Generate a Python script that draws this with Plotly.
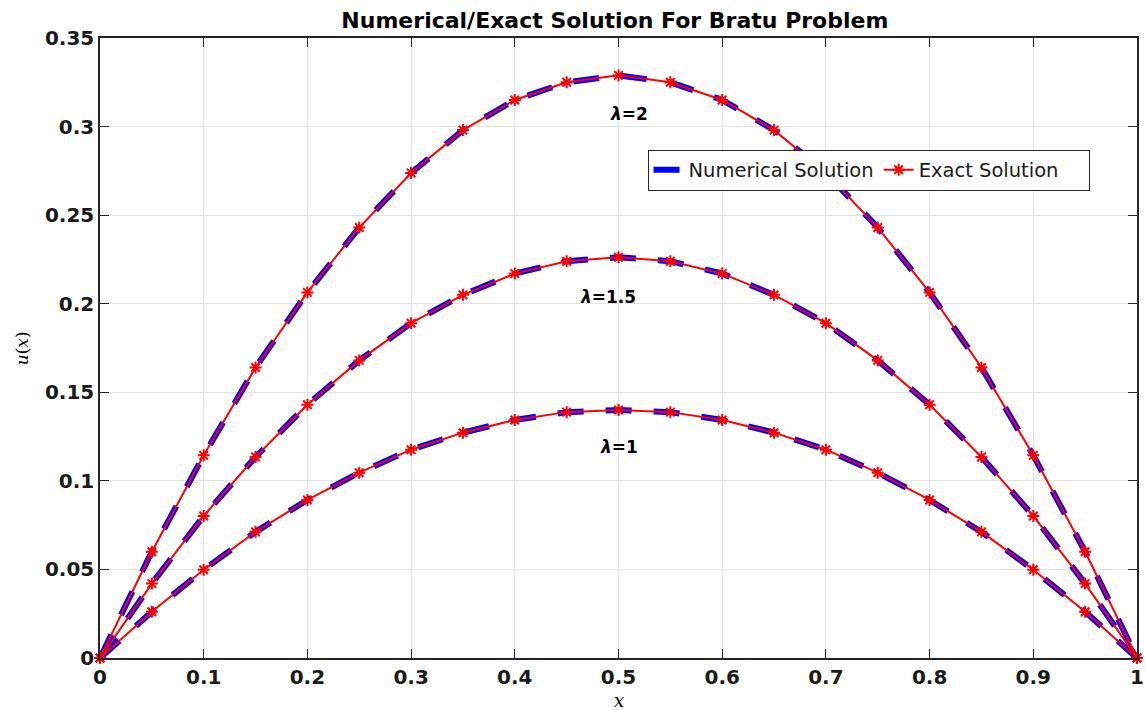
import plotly.graph_objects as go

x_vals = [0, 0.05, 0.1, 0.15, 0.2, 0.25, 0.3, 0.35, 0.4, 0.45, 0.5,
          0.55, 0.6, 0.65, 0.7, 0.75, 0.8, 0.85, 0.9, 0.95, 1.0]
u_lam1 = [0, 0.0261, 0.0498, 0.0712, 0.0892, 0.1046, 0.1176, 0.1272, 0.1344, 0.1388, 0.1400,
          0.1388, 0.1344, 0.1272, 0.1176, 0.1046, 0.0892, 0.0712, 0.0498, 0.0261, 0]
u_lam15 = [0, 0.0420, 0.0802, 0.1135, 0.1430, 0.1680, 0.1890, 0.2050, 0.2170, 0.2240, 0.2262,
           0.2240, 0.2170, 0.2050, 0.1890, 0.1680, 0.1430, 0.1135, 0.0802, 0.0420, 0]
u_lam2 = [0, 0.0600, 0.1144, 0.1640, 0.2064, 0.2430, 0.2738, 0.2980, 0.3150, 0.3250, 0.3289,
          0.3250, 0.3150, 0.2980, 0.2738, 0.2430, 0.2064, 0.1640, 0.1144, 0.0600, 0]
curves = [u_lam1, u_lam15, u_lam2]
labels = ["<b><i>λ</i>=1</b>", "<b><i>λ</i>=1.5</b>", "<b><i>λ</i>=2</b>"]
label_x = [0.5, 0.49, 0.51]
label_y = [0.119, 0.204, 0.307]
x_ticks = [0, 0.1, 0.2, 0.3, 0.4, 0.5, 0.6, 0.7, 0.8, 0.9, 1]
x_tick_text = ["0", "0.1", "0.2", "0.3", "0.4", "0.5", "0.6", "0.7", "0.8", "0.9", "1"]
y_ticks = [0, 0.05, 0.1, 0.15, 0.2, 0.25, 0.3, 0.35]
y_tick_text = ["0", "0.05", "0.1", "0.15", "0.2", "0.25", "0.3", "0.35"]

fig = go.Figure()
for i, u in enumerate(curves):
    fig.add_trace(go.Scatter(
        x=x_vals, y=u, mode="lines", name="Numerical Solution",
        line=dict(color="#0000ff", width=6, dash="26px,22px"),
        showlegend=(i == 0), legendrank=1, cliponaxis=False,
    ))
for i, u in enumerate(curves):
    fig.add_trace(go.Scatter(
        x=x_vals, y=u, mode="lines+markers", name="Exact Solution\u00a0\u00a0\u00a0\u00a0",
        line=dict(color="#ff0000", width=2),
        marker=dict(symbol="asterisk-open", size=10, color="#ff0000",
                    line=dict(color="#ff0000", width=2)),
        showlegend=(i == 0), legendrank=2, cliponaxis=False,
    ))

for t, lx, ly in zip(labels, label_x, label_y):
    fig.add_annotation(x=lx, y=ly, text=t, showarrow=False,
                       font=dict(family="DejaVu Sans", size=17, color="black"))

# axis titles as annotations for exact placement
fig.add_annotation(xref="paper", yref="paper", x=0.5, y=-0.068, yanchor="middle",
                   text="<i>x</i>", showarrow=False,
                   font=dict(family="DejaVu Serif", size=18, color="black"))
fig.add_annotation(xref="paper", yref="paper", x=-0.075, y=0.5, xanchor="center",
                   textangle=-90, text="<i>u</i>(<i>x</i>)", showarrow=False,
                   font=dict(family="DejaVu Serif", size=17, color="black"))

axis_common = dict(
    showgrid=True, gridcolor="#e3e3e3", gridwidth=1,
    showline=True, linecolor="#262626", linewidth=1.5, mirror="ticks",
    ticks="inside", ticklen=9, tickcolor="#262626", tickwidth=1,
    tickfont=dict(family="DejaVu Sans", size=20, color="#1a1a1a", weight="bold"),
    zeroline=False, automargin=False,
)

fig.update_layout(
    width=1145, height=710,
    margin=dict(l=100, r=8, t=38, b=52, autoexpand=False),
    paper_bgcolor="white", plot_bgcolor="white",
    title=dict(text="<b>Numerical/Exact Solution For Bratu Problem</b>",
               x=0.537, xanchor="center", y=0.971, yanchor="middle",
               font=dict(family="DejaVu Sans", size=22, color="black")),
    xaxis=dict(range=[0, 1], tickvals=x_ticks, ticktext=x_tick_text, **axis_common),
    yaxis=dict(range=[0, 0.35], tickvals=y_ticks, ticktext=y_tick_text, **axis_common),
    legend=dict(x=0.528, y=0.82, xanchor="left", yanchor="top",
                orientation="h", bgcolor="white", bordercolor="#262626", borderwidth=1,
                font=dict(family="DejaVu Sans", size=19.5, color="#1a1a1a"),
                itemwidth=30, tracegroupgap=0),
    showlegend=True,
)

fig.write_html("out.html", config={"displayModeBar": False},
               post_script="document.body.style.margin='0';document.body.style.overflow='hidden';")
